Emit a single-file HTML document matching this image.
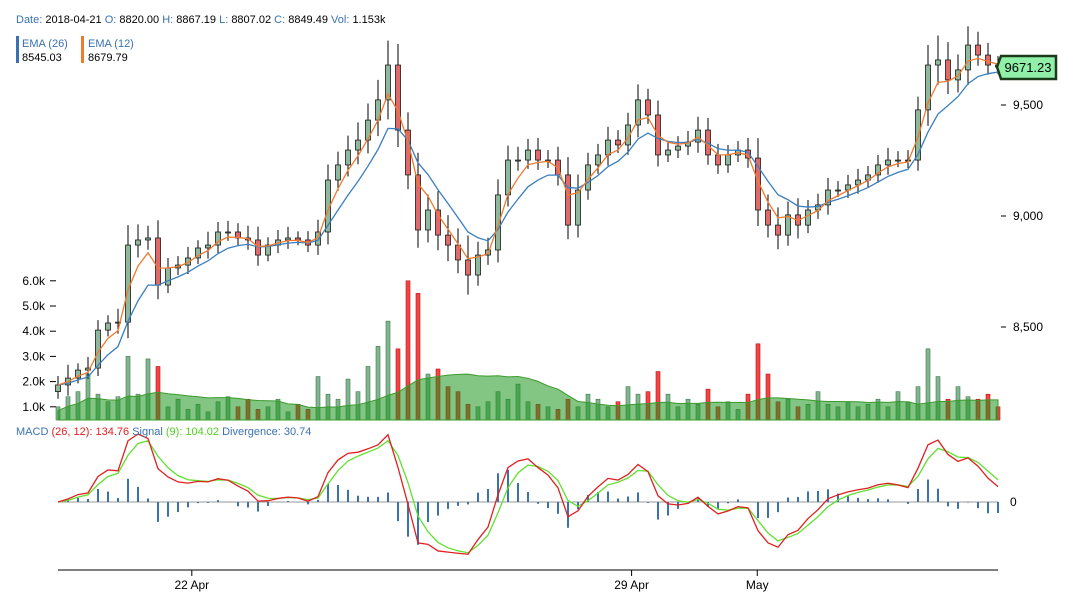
<!DOCTYPE html>
<html><head><meta charset="utf-8">
<style>
body{margin:0;background:#fff;font-family:"Liberation Sans",sans-serif;}
svg text{font-family:"Liberation Sans",sans-serif;}
</style></head>
<body>
<svg id="chart" width="1076" height="607" viewBox="0 0 1076 607" xmlns="http://www.w3.org/2000/svg">
<g font-size="11">
<text x="16" y="23"><tspan fill="#3a72b0">Date: </tspan><tspan fill="#000">2018-04-21 </tspan><tspan fill="#3a72b0">O: </tspan><tspan fill="#000">8820.00 </tspan><tspan fill="#3a72b0">H: </tspan><tspan fill="#000">8867.19 </tspan><tspan fill="#3a72b0">L: </tspan><tspan fill="#000">8807.02 </tspan><tspan fill="#3a72b0">C: </tspan><tspan fill="#000">8849.49 </tspan><tspan fill="#3a72b0">Vol: </tspan><tspan fill="#000">1.153k</tspan></text>
</g>
<g font-size="11">
<rect x="16" y="36" width="3" height="27" fill="#3a72b0"/>
<text x="22" y="47" fill="#3a72b0">EMA (26)</text>
<text x="22" y="61" fill="#000">8545.03</text>
</g>
<g font-size="11">
<rect x="81" y="36" width="3" height="27" fill="#f07a30"/>
<text x="88" y="47" fill="#3a72b0">EMA (12)</text>
<text x="88" y="61" fill="#000">8679.79</text>
</g>
<g id="vol"></g>
<g id="volArea"></g>
<g id="candles"></g>
<g id="emas"></g>
<g id="yaxis" font-size="12"></g>
<g id="vaxis" font-size="12"></g>
<g id="macd"></g>
<g font-size="11">
<text x="16" y="435"><tspan fill="#3a72b0">MACD </tspan><tspan fill="#e02020">(26, 12): 134.76 </tspan><tspan fill="#3a72b0">Signal </tspan><tspan fill="#50d020">(9): 104.02 </tspan><tspan fill="#3a72b0">Divergence: 30.74</tspan></text>
</g>
<g id="xaxis" font-size="12"></g>
<g>
<polygon points="997,67 1001,56 1056,56 1056,79 1001,79" fill="#90f0a8" stroke="#1a3a1a" stroke-width="2.5"/>
<text x="1028" y="72" text-anchor="middle" font-size="13" fill="#000">9671.23</text>
</g>
</svg>
<script>
const closes=[8239,8270,8306,8315,8486,8518,8522,8869,8892,8901,8689,8766,8779,8811,8856,8869,8928,8928,8901,8892,8824,8869,8892,8901,8892,8869,8928,9162,9230,9297,9342,9432,9523,9680,9387,9185,8937,9027,8914,8869,8802,8734,8824,8847,9095,9252,9252,9297,9252,9252,9185,8959,9117,9230,9275,9342,9320,9410,9523,9455,9275,9297,9315,9333,9387,9275,9230,9275,9297,9261,9027,8959,8914,9005,8959,9027,9050,9117,9117,9140,9162,9185,9230,9252,9252,9252,9478,9680,9703,9613,9658,9770,9725,9680,9671];
const wicks=[40,60,30,50,45,35,60,90,70,55,80,45,40,50,35,60,45,50,40,55,60,35,45,50,30,40,55,70,60,65,80,75,90,110,95,80,100,70,85,90,75,110,60,55,70,65,60,50,55,45,60,80,70,55,50,60,45,55,70,50,65,40,45,50,60,55,50,45,40,55,90,70,80,60,75,45,50,55,40,45,50,40,45,55,40,45,60,90,110,80,70,85,60,55,40];
const volumes=[1.0,1.4,1.6,2.3,1.5,1.2,1.4,3.0,1.5,2.9,2.6,1.0,1.3,0.9,1.1,0.8,1.2,1.4,1.0,1.3,0.9,1.0,1.3,0.8,1.1,0.9,2.2,1.5,1.3,2.1,1.6,2.6,3.4,4.4,3.3,6.0,5.5,2.3,2.5,1.8,1.6,1.1,1.0,1.2,1.6,1.3,1.9,1.2,1.1,1.0,0.9,1.3,1.0,1.5,1.3,1.0,1.2,1.8,1.5,1.6,2.4,1.5,1.0,1.3,1.1,1.7,1.0,1.2,0.9,1.5,3.5,2.3,1.2,1.3,1.0,1.1,1.6,1.1,1.0,1.2,1.0,1.1,1.3,1.0,1.6,1.2,1.8,3.3,2.2,1.3,1.8,1.4,1.3,1.5,1.0];
const priceTicks=[8500,9000,9500];
const priceTickLabels=["8,500","9,000","9,500"];
const volTicks=[1,2,3,4,5,6];
const volTickLabels=["1.0k","2.0k","3.0k","4.0k","5.0k","6.0k"];
const dateTicks=["2018-04-22T00:00","2018-04-29T00:00","2018-05-01T00:00"];
const dateTickLabels=["22 Apr","29 Apr","May"];
const startTime="2018-04-19T20:53";
const stepHours=3.82;

const NS="http://www.w3.org/2000/svg";
function mk(tag,attrs,parent){const e=document.createElementNS(NS,tag);for(const k in attrs)e.setAttribute(k,attrs[k]);parent.appendChild(e);return e;}
const n=closes.length;
const X0=58,X1=998;
const step=(X1-X0)/(n-1);
const xS=i=>X0+i*step;
const yP=p=>216-(p-9000)*0.222;
const yV=v=>Math.min(420,432-v*25.2);
const t0=new Date(startTime).getTime();
const xT=d=>X0+((new Date(d).getTime()-t0)/3600000/stepHours)*step;

const opens=closes.map((c,i)=>i===0?c-30:closes[i-1]);
const gv=document.getElementById('vol');
volumes.forEach((v,i)=>{
  const up=closes[i]>=opens[i];
  const r=mk('rect',{x:xS(i)-2,y:yV(v),width:4,height:420-yV(v),fill:up?'#6aa87a':'#f03030',stroke:up?'#3d7a50':'#c01010','stroke-width':0.6,'fill-opacity':up?0.85:0.9},gv);
  
  
});
const ma=volumes.map((v,i)=>{const s=volumes.slice(Math.max(0,i-15),i+1);return 0.85*s.reduce((a,b)=>a+b,0)/s.length;});
let ad=`M${xS(0)},420 `+ma.map((m,i)=>`L${xS(i)},${yV(m)}`).join(' ')+` L${xS(n-1)},420 Z`;
const area=mk('path',{d:ad,fill:'rgba(30,150,30,0.55)',stroke:'#3a9a2a','stroke-width':1},document.getElementById('volArea'));


const gc=document.getElementById('candles');
closes.forEach((c,i)=>{
  const o=opens[i];const up=c>=o;
  const hi=Math.max(o,c)+wicks[i];const lo=Math.min(o,c)-wicks[i]*0.8;
  const w=mk('line',{x1:xS(i),x2:xS(i),y1:yP(hi),y2:yP(lo),stroke:'#000','stroke-width':1},gc);
  
  
  const top=yP(Math.max(o,c)),h=Math.max(1,Math.abs(yP(o)-yP(c)));
  const b=mk('rect',{x:xS(i)-2.5,y:top,width:5,height:h,fill:up?'#8fb89c':'#e06a6a',stroke:'#1a1a1a','stroke-width':0.8},gc);
  
  
});
function ema(arr,p){const k=2/(p+1);const out=[];arr.forEach((v,i)=>out.push(i===0?v:v*k+out[i-1]*(1-k)));return out;}
const ema12=ema(closes,3.2),ema26=ema(closes,7);
const ge=document.getElementById('emas');
[[ema26,'#3a7fc0','ema26-line'],[ema12,'#f07a30','ema12-line']].forEach(([s,col,nm])=>{
  const p=mk('path',{d:s.map((v,i)=>(i?'L':'M')+xS(i)+','+yP(v)).join(' '),fill:'none',stroke:col,'stroke-width':1.3},ge);
  
  
});
const gy=document.getElementById('yaxis');
priceTicks.forEach((t,i)=>{
  const l=mk('line',{x1:1001,x2:1006,y1:yP(t),y2:yP(t),stroke:'#000'},gy);
  
  
  const tx=mk('text',{x:1013,y:yP(t)+4,fill:'#000'},gy);tx.textContent=priceTickLabels[i];
  
  
});
const gva=document.getElementById('vaxis');
volTicks.forEach((t,i)=>{
  const y=432-t*25.2;
  const l=mk('line',{x1:50,x2:56,y1:y,y2:y,stroke:'#000'},gva);
  
  
  const tx=mk('text',{x:45,y:y+4,'text-anchor':'end',fill:'#000'},gva);tx.textContent=volTickLabels[i];
  
  
});
const fast=ema(closes,3.2),slow=ema(closes,7);
const macd=fast.map((v,i)=>v-slow[i]);
const signal=ema(macd,2.6);
const div=macd.map((v,i)=>v-signal[i]);
const mx=Math.max(...macd.map(Math.abs));
const yM=v=>502-v*(68/mx);
const gm=document.getElementById('macd');
const zl=mk('line',{x1:X0,x2:X1,y1:502,y2:502,stroke:'#999','stroke-width':1},gm);


div.forEach((d,i)=>{
  const b=mk('rect',{x:xS(i)-1,y:Math.min(502,yM(d*1.6)),width:2,height:Math.abs(yM(d*1.6)-502),fill:'#3a72b0'},gm);
  
  
});
[[signal,'#60e030','signal-line'],[macd,'#e02020','macd-line']].forEach(([s,col,nm])=>{
  const p=mk('path',{d:s.map((v,i)=>(i?'L':'M')+xS(i)+','+yM(v)).join(' '),fill:'none',stroke:col,'stroke-width':1.3},gm);
  
  
});
const mt=mk('text',{x:1010,y:506,'font-size':12,fill:'#000'},gm);mt.textContent='0';


const gx=document.getElementById('xaxis');
const ax=mk('line',{x1:X0,x2:X1,y1:570,y2:570,stroke:'#000'},gx);


dateTicks.forEach((d,i)=>{
  const x=xT(d);
  const l=mk('line',{x1:x,x2:x,y1:570,y2:576,stroke:'#000'},gx);
  
  
  const tx=mk('text',{x:x,y:589,'text-anchor':'middle',fill:'#000'},gx);tx.textContent=dateTickLabels[i];
  
  
});
</script>
</body></html>
